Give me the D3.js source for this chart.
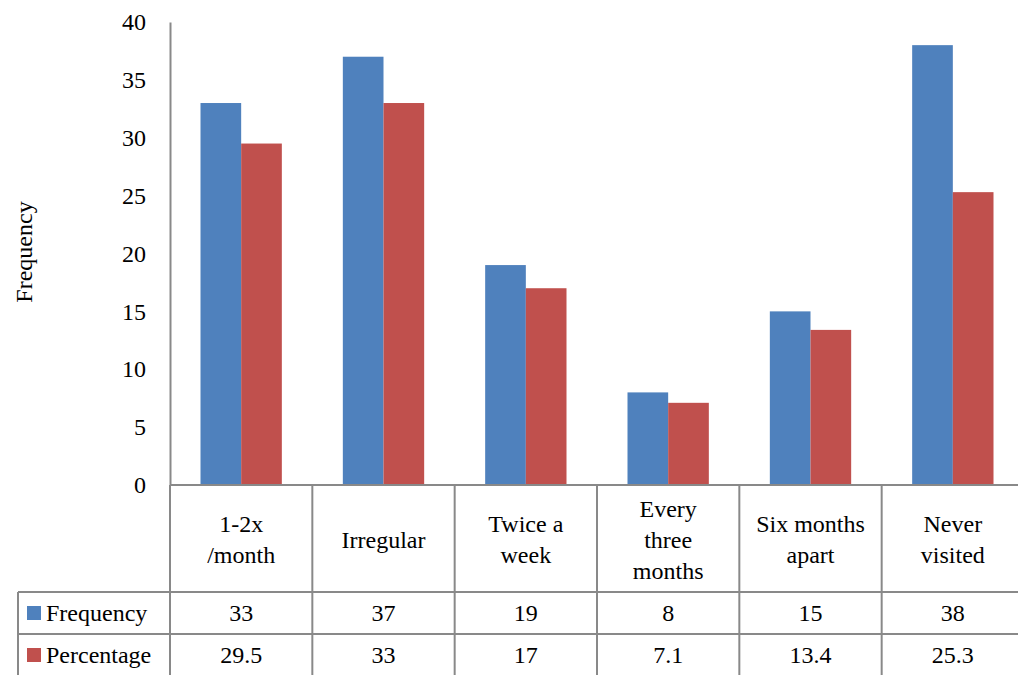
<!DOCTYPE html>
<html>
<head>
<meta charset="utf-8">
<script src="https://cdn.jsdelivr.net/npm/d3@7/dist/d3.min.js"></script>
<style>
  html, body { margin: 0; padding: 0; background: #fff; }
  svg { display: block; }
  svg text { font-family: "Times New Roman", Tinos, "Liberation Serif", "DejaVu Serif", serif; fill: #000; }
</style>
</head>
<body>
<svg id="chart" width="1018" height="675"></svg>
<script>
// Visit frequency categories (label lines for the table header cells)
const categories = ["1-2x /month", "Irregular", "Twice a week", "Every three months", "Six months apart", "Never visited"];
const categoryLines = [["1-2x", "/month"], ["Irregular"], ["Twice a", "week"], ["Every", "three", "months"], ["Six months", "apart"], ["Never", "visited"]];
const seriesNames = ["Frequency", "Percentage"];
const frequency = [33, 37, 19, 8, 15, 38];
const percentage = [29.5, 33, 17, 7.1, 13.4, 25.3];
const frequencyLabels = ["33", "37", "19", "8", "15", "38"];
const percentageLabels = ["29.5", "33", "17", "7.1", "13.4", "25.3"];
const yTicks = [0, 5, 10, 15, 20, 25, 30, 35, 40];

const colors = { Frequency: "#4F81BD", Percentage: "#C0504D" };
const gridColor = "#898989";
const serif = '"Times New Roman", Tinos, "Liberation Serif", "DejaVu Serif", serif';

const svg = d3.select("#chart").attr("font-family", serif);

const plotLeft = 170, plotRight = 1024, plotTop = 22, plotBottom = 485;
const headerBottom = 592, row1Bottom = 634, row2Bottom = 676, tableLeft = 18;

const x = d3.scaleBand().domain(categories).range([plotLeft, plotRight]).paddingInner(0).paddingOuter(0);
const xInner = d3.scaleBand().domain(seriesNames).range([0, x.bandwidth()]).paddingInner(0).paddingOuter(0.75);
const y = d3.scaleLinear().domain([0, 40]).range([plotBottom, plotTop]);

const rows = categories.map((c, i) => ({ cat: c, Frequency: frequency[i], Percentage: percentage[i] }));

// Bars
const groups = svg.append("g").selectAll("g").data(rows).join("g")
  .attr("transform", d => `translate(${x(d.cat)},0)`);
groups.selectAll("rect")
  .data(d => seriesNames.map(s => ({ s, v: d[s] })))
  .join("rect")
  .attr("x", d => xInner(d.s))
  .attr("width", xInner.bandwidth())
  .attr("y", d => y(d.v))
  .attr("height", d => y(0) - y(d.v))
  .attr("fill", d => colors[d.s]);

// Y axis (line + labels, no tick marks)
const yAxis = d3.axisLeft(y).tickValues(yTicks).tickSize(0).tickPadding(24);
const yg = svg.append("g").attr("transform", `translate(${plotLeft},0)`).call(yAxis)
  .attr("font-family", serif).attr("font-size", 24);
yg.select(".domain").attr("stroke", gridColor).attr("stroke-width", 2);
yg.selectAll("text").attr("fill", "#000");

// Y axis title
svg.append("text")
  .attr("transform", `translate(32,252) rotate(-90)`)
  .attr("text-anchor", "middle")
  .attr("font-size", 24)
  .text("Frequency");

// Data table grid
const grid = svg.append("g").attr("stroke", gridColor).attr("stroke-width", 2).attr("fill", "none");
grid.append("line").attr("x1", plotLeft).attr("x2", plotRight).attr("y1", plotBottom).attr("y2", plotBottom);
grid.append("line").attr("x1", tableLeft).attr("x2", plotRight).attr("y1", headerBottom).attr("y2", headerBottom);
grid.append("line").attr("x1", tableLeft).attr("x2", plotRight).attr("y1", row1Bottom).attr("y2", row1Bottom);
grid.append("line").attr("x1", tableLeft).attr("x2", tableLeft).attr("y1", headerBottom).attr("y2", row2Bottom);
grid.selectAll("line.col").data(categories.concat(["end"])).join("line")
  .attr("class", "col")
  .attr("x1", (d, i) => i < categories.length ? x(d) : plotRight)
  .attr("x2", (d, i) => i < categories.length ? x(d) : plotRight)
  .attr("y1", plotBottom).attr("y2", row2Bottom);

// Header cells: category labels
const lineH = 31;
const headerMid = (plotBottom + headerBottom) / 2 + 1;
svg.append("g").selectAll("text").data(categories).join("text")
  .attr("x", d => x(d) + x.bandwidth() / 2)
  .attr("text-anchor", "middle")
  .attr("font-size", 24)
  .each(function (d, i) {
    const lines = categoryLines[i];
    const t = d3.select(this);
    lines.forEach((ln, k) => {
      t.append("tspan")
        .attr("x", x(d) + x.bandwidth() / 2)
        .attr("y", headerMid + (k - (lines.length - 1) / 2) * lineH)
        .attr("dy", "0.35em")
        .text(ln);
    });
  });

// Value rows
const tableRows = [
  { name: "Frequency", labels: frequencyLabels, top: headerBottom, bottom: row1Bottom },
  { name: "Percentage", labels: percentageLabels, top: row1Bottom, bottom: row2Bottom }
];
tableRows.forEach(r => {
  const mid = (r.top + r.bottom) / 2;
  svg.append("rect")
    .attr("x", 27).attr("y", mid - 7).attr("width", 14).attr("height", 14)
    .attr("fill", colors[r.name]);
  svg.append("text")
    .attr("x", 46).attr("y", mid).attr("dy", "0.35em")
    .attr("font-size", 24).text(r.name);
  svg.append("g").selectAll("text").data(r.labels).join("text")
    .attr("x", (d, i) => x(categories[i]) + x.bandwidth() / 2)
    .attr("y", mid).attr("dy", "0.35em")
    .attr("text-anchor", "middle")
    .attr("font-size", 24)
    .text(d => d);
});
</script>
</body>
</html>
